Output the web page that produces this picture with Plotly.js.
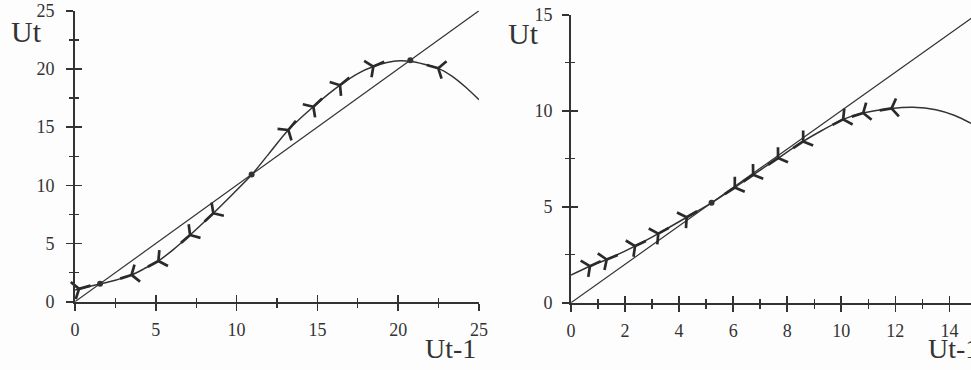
<!DOCTYPE html>
<html>
<head>
<meta charset="utf-8">
<script src="https://cdn.plot.ly/plotly-3.0.1.min.js"></script>
<style>
  html, body { margin: 0; padding: 0; background: #fdfdfd; }
  #chart { width: 971px; height: 370px; }
</style>
</head>
<body>
<div id="chart"></div>
<script>
// left panel: Ut against Ut-1, three fixed points
var leftX = [0, 0.25, 0.8, 1.55, 2.5, 3.5, 4.3, 5.16, 6.1, 7.12, 8.56, 9.8, 10.93, 12.0, 13.2,
             14.75, 16.4, 17.5, 18.46, 19.3, 20.1, 20.75, 21.6, 22.48, 23.3, 24.2, 25];
var leftY = [1.0, 1.1, 1.28, 1.52, 1.85, 2.3, 2.85, 3.5, 4.5, 5.73, 7.6, 9.3, 10.9, 12.72, 14.75,
             16.75, 18.6, 19.6, 20.2, 20.55, 20.7, 20.65, 20.4, 20.05, 19.4, 18.4, 17.35];
// 1 = arrow pointing along the curve (to the right), -1 = pointing back, 0 = none
var leftDir = [0, 1, 0, 0, 0, -1, 0, -1, 0, -1, -1, 0, 0, 0, 1,
               1, 1, 0, 1, 0, 0, 0, 0, -1, 0, 0, 0];
var leftFixed = [1.55, 10.93, 20.75];
var leftDiag = [0, 25];

// right panel: one stable fixed point
var rightX = [0, 0.7, 1.32, 2.37, 3.23, 4.28, 5.2, 6.06, 6.74, 7.66, 8.59, 9.3, 10.07, 10.81,
              11.86, 12.66, 13.5, 14.2, 14.8];
var rightY = [1.44, 1.9, 2.25, 2.95, 3.6, 4.45, 5.2, 6.0, 6.66, 7.53, 8.4, 8.98, 9.55, 9.88,
              10.12, 10.18, 10.05, 9.75, 9.34];
var rightDir = [0, 1, 1, 1, 1, 1, 0, -1, -1, -1, -1, 0, -1, -1,
                -1, 0, 0, 0, 0];
var rightFixed = [5.2];
var rightDiag = [0, 15];

var ink = '#333333';
var serif = '"Liberation Serif", "Times New Roman", Times, serif';

function curve(x, y, dir, xa, ya) {
  return {
    x: x, y: y, xaxis: xa, yaxis: ya, type: 'scatter', mode: 'lines+markers',
    line: { color: ink, width: 1.5, shape: 'spline', smoothing: 0.8 },
    marker: {
      size: dir.map(function (d) { return d === 0 ? 0 : 15; }),
      symbol: dir.map(function (d) { return d < 0 ? 'y-down' : 'y-up'; }),
      angleref: 'previous',
      color: '#2a2a2a',
      opacity: 1, // array sizes would otherwise default to bubble opacity
      line: { color: '#2a2a2a', width: 2.7 }
    },
    cliponaxis: false, hoverinfo: 'skip'
  };
}

function diag(v, xa, ya) {
  return { x: v, y: v, xaxis: xa, yaxis: ya, type: 'scatter', mode: 'lines',
    line: { color: ink, width: 1.2 }, hoverinfo: 'skip' };
}

function dots(v, xa, ya) {
  return { x: v, y: v, xaxis: xa, yaxis: ya, type: 'scatter', mode: 'markers',
    marker: { size: 6, color: ink }, cliponaxis: false, hoverinfo: 'skip' };
}

var data = [
  diag(leftDiag, 'x', 'y'),
  curve(leftX, leftY, leftDir, 'x', 'y'),
  dots(leftFixed, 'x', 'y'),
  diag(rightDiag, 'x2', 'y2'),
  curve(rightX, rightY, rightDir, 'x2', 'y2'),
  dots(rightFixed, 'x2', 'y2'),
  // empty traces so the inside-tick overlay axes get drawn
  { x: [], y: [], xaxis: 'x3', yaxis: 'y3', type: 'scatter' },
  { x: [], y: [], xaxis: 'x4', yaxis: 'y4', type: 'scatter' }
];

function axis(range, dtick, minor, domain, anchor, labels, standoff) {
  return {
    range: range, domain: domain, anchor: anchor, dtick: dtick, tick0: 0,
    showgrid: false, zeroline: false, showline: labels, linecolor: ink, linewidth: 2,
    ticks: labels ? 'outside' : 'inside', ticklen: 7, tickwidth: 1.6, tickcolor: ink,
    minor: { dtick: minor, tick0: 0, ticks: labels ? 'outside' : 'inside', ticklen: 4,
             tickwidth: 1.4, tickcolor: ink, showgrid: false },
    showticklabels: labels, ticklabelstandoff: standoff || 4,
    tickfont: { family: serif, size: 18, color: '#333' },
    fixedrange: true, automargin: false
  };
}

var lxd = [75 / 971, 479 / 971], lyd = [(370 - 301.7) / 370, (370 - 10.7) / 370];
var rxd = [571 / 971, 1], ryd = [(370 - 302.7) / 370, (370 - 14.7) / 370];

var layout = {
  width: 971, height: 370,
  margin: { l: 0, r: 0, t: 0, b: 0 },
  paper_bgcolor: '#fdfdfd', plot_bgcolor: '#fdfdfd',
  showlegend: false,
  xaxis: axis([0, 25], 5, 2.5, lxd, 'y', true, 4),
  yaxis: axis([0, 25], 5, 2.5, lyd, 'x', true, 8),
  xaxis2: axis([0, 14.8], 2, 1, rxd, 'y2', true, 4),
  yaxis2: axis([0, 15], 5, 2.5, ryd, 'x2', true, 6),
  xaxis3: Object.assign(axis([0, 25], 5, 2.5, lxd, 'y', false), { overlaying: 'x' }),
  yaxis3: Object.assign(axis([0, 25], 5, 2.5, lyd, 'x', false), { overlaying: 'y' }),
  xaxis4: Object.assign(axis([0, 14.8], 2, 1, rxd, 'y2', false), { overlaying: 'x2' }),
  yaxis4: Object.assign(axis([0, 15], 5, 2.5, ryd, 'x2', false), { overlaying: 'y2' }),
  annotations: [
    { text: 'Ut', xref: 'paper', yref: 'paper', x: 9 / 971, y: (370 - 31) / 370,
      xanchor: 'left', yanchor: 'middle', showarrow: false,
      font: { family: serif, size: 30, color: '#333' } },
    { text: 'Ut-1', xref: 'paper', yref: 'paper', x: 478 / 971, y: (370 - 348) / 370,
      xanchor: 'right', yanchor: 'middle', showarrow: false,
      font: { family: serif, size: 28, color: '#333' } },
    { text: 'Ut', xref: 'paper', yref: 'paper', x: 506 / 971, y: (370 - 34) / 370,
      xanchor: 'left', yanchor: 'middle', showarrow: false,
      font: { family: serif, size: 30, color: '#333' } },
    { text: 'Ut-1', xref: 'paper', yref: 'paper', x: 926 / 971, y: (370 - 348) / 370,
      xanchor: 'left', yanchor: 'middle', showarrow: false,
      font: { family: serif, size: 28, color: '#333' } }
  ]
};

Plotly.newPlot('chart', data, layout, { displayModeBar: false, staticPlot: true });
</script>
</body>
</html>
